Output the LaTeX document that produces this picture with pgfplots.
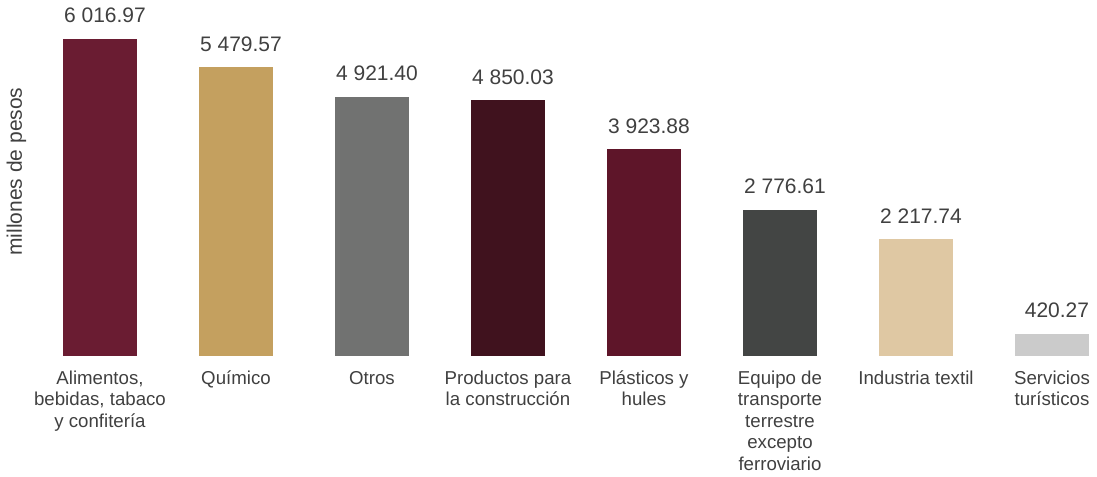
\documentclass[border=0pt]{standalone}
\usepackage{pgfplots}
\pgfplotsset{compat=1.18}
\usepackage{fontspec}
\setmainfont{Liberation Sans}
\definecolor{c1}{HTML}{6A1C32}
\definecolor{c2}{HTML}{C4A05F}
\definecolor{c3}{HTML}{717271}
\definecolor{c4}{HTML}{40121E}
\definecolor{c5}{HTML}{5E1529}
\definecolor{c6}{HTML}{434544}
\definecolor{c7}{HTML}{DFC8A3}
\definecolor{c8}{HTML}{CBCBCB}
\definecolor{txt}{HTML}{404040}
\begin{document}
\begin{tikzpicture}
\begin{axis}[
  at={(24pt,-267pt)}, anchor=south west,
  scale only axis,
  width=816pt, height=237.75pt,
  xmin=-0.5, xmax=7.5, ymin=0, ymax=6016.97,
  clip=false,
  axis lines*=left,
  axis line style={draw=none},
  major tick length=0pt,
  ytick=\empty,
  xtick={0,1,2,3,4,5,6,7},
  xticklabels={
    {\rule{0pt}{12pt}Alimentos,\\bebidas, tabaco\\y confitería},
    {\rule{0pt}{12pt}Químico},
    {\rule{0pt}{12pt}Otros},
    {\rule{0pt}{12pt}Productos para\\la construcción},
    {\rule{0pt}{12pt}Plásticos y\\hules},
    {\rule{0pt}{12pt}Equipo de\\transporte\\terrestre\\excepto\\ferroviario},
    {\rule{0pt}{12pt}Industria textil},
    {\rule{0pt}{12pt}Servicios\\turísticos}},
  xticklabel style={anchor=north, inner sep=0pt, yshift=-9pt, align=center,
    font=\fontsize{14}{16.1}\selectfont, text=txt},
  ylabel={millones de pesos},
  ylabel style={at={(axis description cs:-0.01425,0.582)}, anchor=center,
    inner sep=0pt, font=\fontsize{15.75}{18}\selectfont, text=txt},
  nodes near coords style={font=\fontsize{15.75}{18}\selectfont, text=txt,
    inner sep=0pt, anchor=south, yshift=11.8pt, xshift=3.75pt},
  every axis plot/.append style={ybar, bar width=55.5pt, bar shift=0pt, draw=none,
    point meta=explicit symbolic, nodes near coords},
]
\addplot[fill=c1] coordinates {(0,6016.97) [6 016.97]};
\addplot[fill=c2] coordinates {(1,5479.57) [5 479.57]};
\addplot[fill=c3] coordinates {(2,4921.40) [4 921.40]};
\addplot[fill=c4] coordinates {(3,4850.03) [4 850.03]};
\addplot[fill=c5] coordinates {(4,3923.88) [3 923.88]};
\addplot[fill=c6] coordinates {(5,2776.61) [2 776.61]};
\addplot[fill=c7] coordinates {(6,2217.74) [2 217.74]};
\addplot[fill=c8] coordinates {(7,420.27) [420.27]};
\end{axis}
\pgfresetboundingbox
\path[use as bounding box] (0,0) rectangle (822.75pt,-357pt);
\end{tikzpicture}
\end{document}
